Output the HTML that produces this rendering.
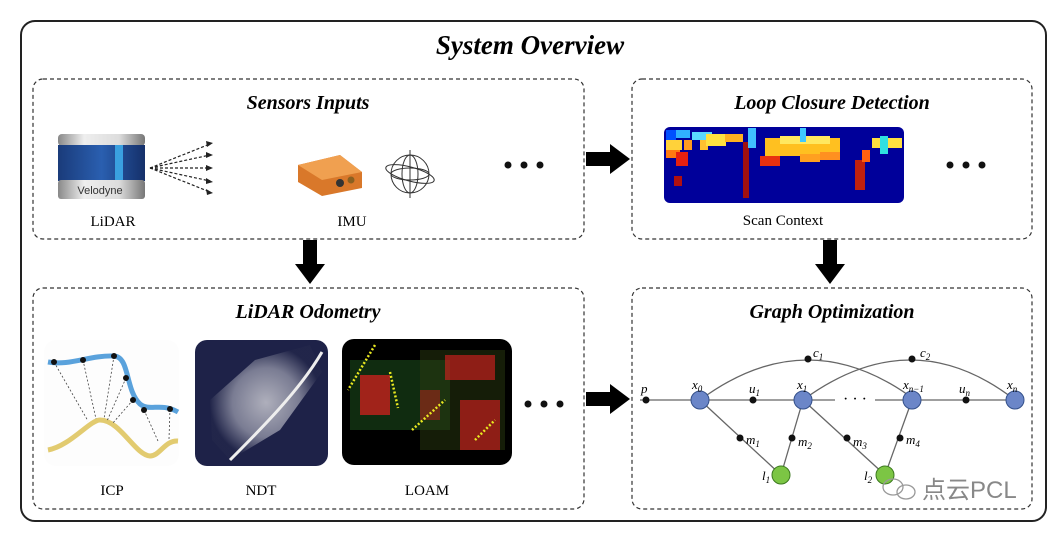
<!DOCTYPE html>
<html><head><style>
html,body{margin:0;padding:0;background:#fff;}
svg text{font-family:"Liberation Serif",serif;}
</style></head><body>
<svg width="1057" height="536" viewBox="0 0 1057 536" xmlns="http://www.w3.org/2000/svg">
<defs>
<linearGradient id="lid" x1="0" y1="0" x2="1" y2="0">
<stop offset="0" stop-color="#888"/><stop offset="0.3" stop-color="#eee"/><stop offset="0.7" stop-color="#ddd"/><stop offset="1" stop-color="#777"/></linearGradient>
<linearGradient id="blue" x1="0" y1="0" x2="1" y2="0">
<stop offset="0" stop-color="#1a3b7a"/><stop offset="0.5" stop-color="#2a5fb0"/><stop offset="1" stop-color="#15306a"/></linearGradient>
<radialGradient id="ndt" cx="0.5" cy="0.5" r="0.5"><stop offset="0" stop-color="#c8c8d0"/><stop offset="0.6" stop-color="#8a8ca0"/><stop offset="1" stop-color="#22264a"/></radialGradient>
</defs>
<rect x="21" y="21" width="1025" height="500" rx="14" fill="#fff" stroke="#222" stroke-width="2"/>
<text x="530" y="54" text-anchor="middle" font-size="27" font-weight="bold" font-style="italic">System Overview</text>
<g fill="none" stroke="#333" stroke-width="1.2" stroke-dasharray="4,3">
<rect x="33" y="79" width="551" height="160" rx="10"/>
<rect x="632" y="79" width="400" height="160" rx="10"/>
<rect x="33" y="288" width="551" height="221" rx="10"/>
<rect x="632" y="288" width="400" height="221" rx="10"/>
</g>
<g font-size="20" font-weight="bold" font-style="italic" text-anchor="middle">
<text x="308" y="109">Sensors Inputs</text>
<text x="832" y="109">Loop Closure Detection</text>
<text x="308" y="318">LiDAR Odometry</text>
<text x="832" y="318">Graph Optimization</text>
</g>
<!-- LiDAR -->
<rect x="58" y="134" width="87" height="12" rx="4" fill="url(#lid)"/>
<rect x="58" y="145" width="87" height="36" fill="url(#blue)"/>
<rect x="115" y="145" width="8" height="36" fill="#3aa0e0"/>
<rect x="58" y="180" width="87" height="19" rx="3" fill="url(#lid)"/>
<text x="100" y="194" text-anchor="middle" font-size="11" style="font-family:'Liberation Sans',sans-serif" fill="#333">Velodyne</text>
<g stroke="#222" stroke-width="1.2" stroke-dasharray="3,2" fill="#222">
<line x1="150" y1="168" x2="210" y2="144"/><line x1="150" y1="168" x2="210" y2="155"/><line x1="150" y1="168" x2="210" y2="168"/><line x1="150" y1="168" x2="210" y2="181"/><line x1="150" y1="168" x2="210" y2="192"/>
</g>
<g fill="#222"><polygon points="213,143 206,141 207,147"/><polygon points="213,155 206,152 206,158"/><polygon points="213,168 206,165 206,171"/><polygon points="213,182 206,178 206,184"/><polygon points="213,193 206,189 207,195"/></g>
<text x="113" y="226" text-anchor="middle" font-size="15">LiDAR</text>
<!-- IMU -->
<polygon points="298,165 340,155 362,172 362,188 322,196 298,182" fill="#d9782a"/>
<polygon points="298,165 340,155 362,172 322,180" fill="#f0a050"/>
<circle cx="340" cy="183" r="4" fill="#333"/><circle cx="351" cy="180" r="3.5" fill="#8a6020"/>
<g fill="none" stroke="#333" stroke-width="1">
<circle cx="410" cy="174" r="19"/><ellipse cx="410" cy="174" rx="8" ry="19"/><ellipse cx="410" cy="174" rx="19" ry="6"/><ellipse cx="410" cy="174" rx="25" ry="7" transform="rotate(15 410 174)"/><line x1="410" y1="150" x2="410" y2="198"/>
</g>
<text x="352" y="226" text-anchor="middle" font-size="15">IMU</text>
<g fill="#111"><circle cx="508" cy="165" r="3.5"/><circle cx="524" cy="165" r="3.5"/><circle cx="540" cy="165" r="3.5"/>
<circle cx="950" cy="165" r="3.5"/><circle cx="966" cy="165" r="3.5"/><circle cx="982" cy="165" r="3.5"/>
<circle cx="528" cy="404" r="3.5"/><circle cx="544" cy="404" r="3.5"/><circle cx="560" cy="404" r="3.5"/></g>
<!-- scan context -->
<rect x="664" y="127" width="240" height="76" rx="6" fill="#00009a"/>
<g>
<rect x="666" y="130" width="10" height="10" fill="#0050ff"/><rect x="676" y="130" width="14" height="8" fill="#30b0ff"/>
<rect x="666" y="140" width="16" height="10" fill="#ffd23a"/><rect x="666" y="150" width="14" height="8" fill="#ff7a10"/><rect x="676" y="152" width="12" height="14" fill="#e62010"/><rect x="684" y="140" width="8" height="10" fill="#ff9a20"/><rect x="692" y="132" width="20" height="8" fill="#5ad8ff"/><rect x="700" y="140" width="8" height="10" fill="#ffc030"/><rect x="706" y="134" width="20" height="12" fill="#ffe040"/><rect x="725" y="134" width="18" height="8" fill="#ffb020"/><rect x="743" y="142" width="6" height="56" fill="#a01010"/><rect x="748" y="128" width="8" height="20" fill="#40c0ff"/>
<rect x="765" y="138" width="75" height="18" fill="#ffc020"/><rect x="780" y="136" width="50" height="8" fill="#ffe860"/><rect x="760" y="156" width="20" height="10" fill="#e83010"/><rect x="800" y="154" width="20" height="8" fill="#ffa020"/><rect x="820" y="152" width="20" height="8" fill="#ff9020"/><rect x="855" y="160" width="10" height="30" fill="#c02010"/><rect x="872" y="138" width="30" height="10" fill="#ffe040"/><rect x="880" y="136" width="8" height="18" fill="#30e0e0"/><rect x="674" y="176" width="8" height="10" fill="#b01010"/><rect x="800" y="128" width="6" height="14" fill="#40c8ff"/><rect x="862" y="150" width="8" height="12" fill="#ff6010"/>
</g>
<text x="783" y="225" text-anchor="middle" font-size="15">Scan Context</text>
<!-- arrows -->
<g fill="#000">
<polygon points="586,152 610,152 610,144 630,159 610,174 610,166 586,166"/>
<polygon points="586,392 610,392 610,384 630,399 610,414 610,406 586,406"/>
<polygon points="303,240 317,240 317,264 325,264 310,284 295,264 303,264"/>
<polygon points="823,240 837,240 837,264 845,264 830,284 815,264 823,264"/>
</g>
<!-- ICP -->
<rect x="44" y="340" width="135" height="126" rx="12" fill="#fdfdfd"/>
<path d="M48,362 C70,366 90,355 114,356 C130,357 125,390 140,404 C150,412 160,402 178,412" fill="none" stroke="#5aa2dc" stroke-width="5"/>
<path d="M48,450 C70,446 90,420 100,420 C120,420 135,455 150,456 C160,456 165,440 178,441" fill="none" stroke="#e2cb70" stroke-width="5"/>
<g stroke="#444" stroke-width="0.8" stroke-dasharray="2,2"><line x1="54" y1="362" x2="88" y2="421"/><line x1="83" y1="360" x2="96" y2="419"/><line x1="114" y1="356" x2="104" y2="419"/><line x1="126" y1="378" x2="107" y2="421"/><line x1="133" y1="400" x2="112" y2="424"/><line x1="144" y1="410" x2="158" y2="441"/><line x1="170" y1="409" x2="169" y2="439"/></g>
<g fill="#111"><circle cx="54" cy="362" r="3"/><circle cx="83" cy="360" r="3"/><circle cx="114" cy="356" r="3"/><circle cx="126" cy="378" r="3"/><circle cx="133" cy="400" r="3"/><circle cx="144" cy="410" r="3"/><circle cx="170" cy="409" r="3"/></g>
<text x="112" y="495" text-anchor="middle" font-size="15">ICP</text>
<!-- NDT -->
<rect x="195" y="340" width="133" height="126" rx="12" fill="#1e2248"/>
<polygon points="210,400 255,360 310,345 322,372 280,430 230,460 212,440" fill="url(#ndt)" opacity="0.85"/>
<path d="M230,460 C260,430 300,390 322,352" stroke="#eee" stroke-width="3" fill="none"/>
<text x="261" y="495" text-anchor="middle" font-size="15">NDT</text>
<!-- LOAM -->
<rect x="342" y="339" width="170" height="126" rx="12" fill="#000"/>
<rect x="350" y="360" width="100" height="70" fill="#1a4a1a" opacity="0.6"/>
<rect x="420" y="350" width="85" height="100" fill="#2a3a10" opacity="0.5"/>
<g fill="#e02020"><rect x="360" y="375" width="30" height="40" opacity="0.7"/><rect x="445" y="355" width="50" height="25" opacity="0.6"/><rect x="460" y="400" width="40" height="50" opacity="0.6"/><rect x="420" y="390" width="20" height="30" opacity="0.4"/></g>
<g stroke="#e8e820" stroke-width="2.5" stroke-dasharray="2,2"><line x1="375" y1="345" x2="348" y2="390"/><line x1="390" y1="372" x2="398" y2="408"/><line x1="412" y1="430" x2="445" y2="400"/><line x1="475" y1="440" x2="495" y2="420"/></g>
<text x="427" y="495" text-anchor="middle" font-size="15">LOAM</text>
<!-- graph -->
<g stroke="#666" stroke-width="1.3" fill="none">
<line x1="640" y1="400" x2="1015" y2="400"/>
<path d="M700,400 Q808,320 915,400"/><path d="M803,400 Q912,320 1015,400"/>
<line x1="700" y1="400" x2="781" y2="475"/><line x1="803" y1="400" x2="781" y2="475"/><line x1="803" y1="400" x2="885" y2="475"/><line x1="912" y1="400" x2="885" y2="475"/>
</g>
<rect x="835" y="393" width="40" height="14" fill="#fff"/>
<text x="855" y="404" text-anchor="middle" font-size="16">· · ·</text>
<g fill="#111"><circle cx="646" cy="400" r="3.5"/><circle cx="753" cy="400" r="3.5"/><circle cx="966" cy="400" r="3.5"/><circle cx="808" cy="359" r="3.5"/><circle cx="912" cy="359" r="3.5"/><circle cx="740" cy="438" r="3.5"/><circle cx="792" cy="438" r="3.5"/><circle cx="847" cy="438" r="3.5"/><circle cx="900" cy="438" r="3.5"/></g>
<g fill="#6b86c8" stroke="#34508a"><circle cx="700" cy="400" r="9"/><circle cx="803" cy="400" r="9"/><circle cx="912" cy="400" r="9"/><circle cx="1015" cy="400" r="9"/></g>
<g fill="#7cc544" stroke="#3d7a20"><circle cx="781" cy="475" r="9"/><circle cx="885" cy="475" r="9"/></g>
<g font-size="13" font-style="italic">
<text x="641" y="393">p</text><text x="692" y="389">x<tspan font-size="9" dy="3">0</tspan></text><text x="749" y="393">u<tspan font-size="9" dy="3">1</tspan></text><text x="797" y="389">x<tspan font-size="9" dy="3">1</tspan></text><text x="903" y="389">x<tspan font-size="9" dy="3">n−1</tspan></text><text x="959" y="393">u<tspan font-size="9" dy="3">n</tspan></text><text x="1007" y="389">x<tspan font-size="9" dy="3">n</tspan></text>
<text x="813" y="357">c<tspan font-size="9" dy="3">1</tspan></text><text x="920" y="357">c<tspan font-size="9" dy="3">2</tspan></text>
<text x="746" y="444">m<tspan font-size="9" dy="3">1</tspan></text><text x="798" y="446">m<tspan font-size="9" dy="3">2</tspan></text><text x="853" y="446">m<tspan font-size="9" dy="3">3</tspan></text><text x="906" y="444">m<tspan font-size="9" dy="3">4</tspan></text>
<text x="762" y="480">l<tspan font-size="9" dy="3">1</tspan></text><text x="864" y="480">l<tspan font-size="9" dy="3">2</tspan></text>
</g>
<!-- watermark -->
<g fill="none" stroke="#999" stroke-width="1.3"><ellipse cx="893" cy="487" rx="10" ry="8"/><ellipse cx="906" cy="492" rx="9" ry="7"/></g>
<text x="922" y="498" font-size="24" fill="#888" style="font-family:'Liberation Sans','Noto Sans CJK SC',sans-serif">点云PCL</text>
</svg>
</body></html>
